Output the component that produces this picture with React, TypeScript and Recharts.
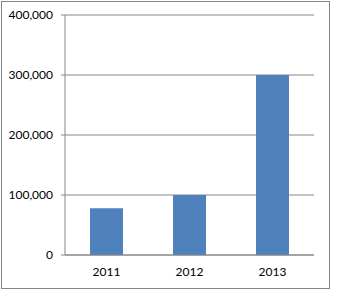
import React from 'react';
import { BarChart, Bar, XAxis, YAxis, CartesianGrid } from 'recharts';

const categories = ['2011', '2012', '2013'];
const values = [78000, 100000, 300000];
const yTicks = [0, 100000, 200000, 300000, 400000];
const boundaryTicks = [0, 1, 2, 3];

const data = categories.map((c, i) => ({ year: c, value: values[i] }));

const fmt = (v: number) => v.toLocaleString('en-US');
const tickStyle = { fill: '#000', fontSize: 12, fontFamily: 'Lato, "Open Sans", sans-serif' };

export default function App() {
  return (
    <div style={{ position: 'absolute', left: 0, top: 0, width: 345, height: 300, background: '#fff' }}>
      <div
        style={{
          position: 'absolute',
          left: 1,
          top: 1,
          width: 327,
          height: 286,
          border: '1px solid #868686',
        }}
      />
      <BarChart
        width={345}
        height={300}
        data={data}
        margin={{ top: 15, right: 31, bottom: 20, left: 0 }}
        barCategoryGap={0}
      >
        <CartesianGrid vertical={false} stroke="#868686" xAxisId="cat" />
        <XAxis
          xAxisId="grid"
          type="number"
          domain={[0, 3]}
          ticks={boundaryTicks}
          tickFormatter={() => ''}
          height={0}
          axisLine={false}
          tickLine={{ stroke: '#868686' }}
          tickSize={5}
        />
        <XAxis
          xAxisId="cat"
          dataKey="year"
          height={25}
          axisLine={{ stroke: '#868686' }}
          tickLine={false}
          tickSize={0}
          tickMargin={12}
          tick={tickStyle}
        />
        <YAxis
          width={65}
          domain={[0, 400000]}
          ticks={yTicks}
          tickFormatter={fmt}
          axisLine={{ stroke: '#868686' }}
          tickLine={{ stroke: '#868686' }}
          tickSize={4}
          tickMargin={8}
          tick={tickStyle}
        />
        <Bar xAxisId="cat" dataKey="value" fill="#4F81BD" barSize={33} isAnimationActive={false} />
      </BarChart>
    </div>
  );
}
